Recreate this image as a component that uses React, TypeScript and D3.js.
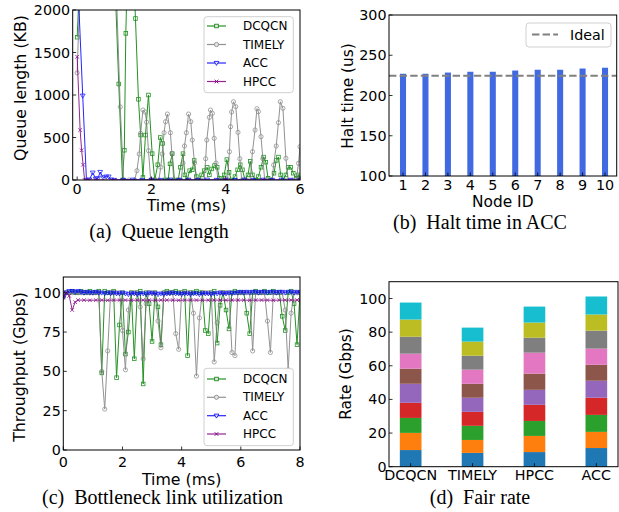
import React from "react";
import * as d3 from "d3";

type Pt = [number, number];

const SANS = "DejaVu Sans, sans-serif";
const SERIF = "Liberation Serif, Times New Roman, serif";

// ---------- (a) Queue length (KB) vs time (ms) ----------
const queueXTicks = [0, 2, 4, 6];
const queueYTicks = [0, 500, 1000, 1500, 2000];

const queueDcqcn: Pt[] = [
  [0, 1680], [0.1, 2700], [0.3, 3300], [0.6, 3400], [0.9, 3000], [1.03, 2200], [1.12, 1130],
  [1.22, 0], [1.27, 350], [1.31, 1725], [1.36, 2600], [1.5, 2600], [1.57, 1900], [1.65, 950],
  [1.71, 529], [1.77, 30], [1.84, 529], [1.92, 1000], [2.02, 310], [2.09, 0], [2.17, 180],
  [2.24, 500], [2.3, 430], [2.37, 0], [2.45, 0], [2.5, 190], [2.56, 310], [2.62, 0], [2.72, 0],
  [2.78, 150], [2.85, 310], [2.9, 60], [2.96, 0], [3.03, 110], [3.1, 120], [3.15, 230],
  [3.21, 40], [3.28, 0], [3.35, 60], [3.42, 110], [3.5, 150], [3.56, 60], [3.62, 130],
  [3.7, 170], [3.77, 150], [3.83, 20], [3.9, 0], [3.96, 60], [4.03, 240], [4.09, 90],
  [4.15, 0], [4.25, 40], [4.32, 120], [4.39, 180], [4.45, 120], [4.52, 0], [4.6, 60],
  [4.66, 220], [4.72, 60], [4.8, 0], [4.88, 40], [4.95, 150], [5.02, 270], [5.08, 210],
  [5.14, 20], [5.22, 0], [5.3, 80], [5.36, 230], [5.42, 270], [5.48, 60], [5.55, 0],
  [5.62, 60], [5.68, 150], [5.75, 150], [5.82, 80], [5.9, 20], [5.96, 60], [6.0, 40],
];

const queueTimely: Pt[] = [
  [0, 1260], [0.1, 2600], [0.4, 3300], [0.8, 3200], [1.05, 2300], [1.16, 860], [1.25, 0],
  [1.4, 0], [1.55, 0], [1.61, 110], [1.67, 306], [1.71, 549], [1.77, 823], [1.83, 800],
  [1.87, 680], [1.92, 345], [1.98, 0], [2.1, 0], [2.2, 0], [2.25, 150], [2.29, 306],
  [2.34, 556], [2.38, 686], [2.43, 776], [2.51, 556], [2.55, 314], [2.6, 0], [2.72, 0],
  [2.8, 0], [2.85, 200], [2.89, 400], [2.94, 556], [3.0, 776], [3.06, 686], [3.1, 470],
  [3.16, 200], [3.21, 0], [3.32, 0], [3.42, 0], [3.46, 250], [3.49, 470], [3.56, 737],
  [3.59, 823], [3.64, 784], [3.69, 490], [3.74, 200], [3.79, 0], [3.92, 0], [4.05, 0],
  [4.1, 333], [4.13, 627], [4.16, 800], [4.21, 921], [4.27, 863], [4.33, 560], [4.38, 250],
  [4.43, 0], [4.55, 0], [4.66, 0], [4.72, 333], [4.79, 588], [4.84, 839], [4.88, 804],
  [4.95, 510], [5.0, 250], [5.05, 0], [5.15, 0], [5.25, 0], [5.29, 176], [5.36, 400],
  [5.42, 675], [5.47, 921], [5.54, 843], [5.62, 255], [5.68, 0], [5.8, 0], [5.9, 0],
  [5.96, 196], [6.0, 392],
];

const queueAcc: Pt[] = [
  [0, 2500], [0.15, 992], [0.25, 0], [0.33, 5], [0.42, 86], [0.5, 15], [0.56, 20],
  [0.62, 94], [0.7, 30], [0.78, 40], [0.85, 40], [0.92, 5], [1.0, 0], [1.25, 0], [1.5, 3],
  [1.75, 0], [2.0, 2], [2.25, 0], [2.5, 3], [2.75, 0], [3.0, 2], [3.25, 0], [3.5, 3],
  [3.75, 0], [4.0, 2], [4.25, 0], [4.5, 3], [4.75, 0], [5.0, 2], [5.25, 0], [5.5, 3],
  [5.75, 0], [6.0, 2],
];

const queueHpcc: Pt[] = [
  [0, 1450], [0.08, 588], [0.12, 350], [0.16, 180], [0.2, 0], [0.3, 0], [0.5, 0],
  [1.0, 0], [2.0, 0], [3.0, 0], [4.0, 0], [5.0, 0], [6.0, 0],
];

// ---------- (b) Halt time in ACC ----------
const nodeIds = [1, 2, 3, 4, 5, 6, 7, 8, 9, 10];
const haltTimes = [227, 227, 228.5, 229.5, 229.5, 231, 232, 232, 233.5, 234.5];
const idealHalt = 224.5;
const haltYTicks = [100, 150, 200, 250, 300];

// ---------- (c) Bottleneck link utilization (Gbps), sampled every 0.1 ms ----------
const tputStep = 0.1;
const tputXTicks = [0, 2, 4, 6, 8];
const tputYTicks = [0, 25, 50, 75, 100];

const tputDcqcn = [
  98, 100, 100, 101, 100, 100, 101, 100, 100, 101,
  100, 100, 101, 49, 101, 100, 100, 101, 46, 79.5,
  100, 61, 75, 100, 58, 100, 101, 42, 100, 93,
  69, 100, 91, 67, 100, 101, 100, 100, 101, 100,
  100, 101, 60, 100, 100, 101, 100, 100, 76, 74,
  100, 101, 68, 92, 100, 89, 77, 100, 101, 100,
  100, 100, 87, 74, 100, 101, 100, 100, 101, 100,
  100, 101, 100, 100, 85, 76, 100, 101, 93, 67,
  100,
];

const tputTimely = [
  97, 100, 100, 100, 100, 100, 100, 100, 100, 100,
  100, 100, 100, 50, 26, 63, 100, 100, 100, 100,
  76, 51, 89, 100, 100, 100, 91, 58, 93, 100,
  100, 100, 82, 65, 100, 100, 100, 100, 74, 64,
  100, 100, 100, 100, 87, 47, 84, 100, 100, 100,
  100, 56, 81, 100, 100, 100, 100, 62, 60, 100,
  100, 100, 100, 100, 63, 100, 100, 100, 100, 82,
  62, 100, 100, 100, 100, 89, 51, 87, 100, 100,
  100,
];

const tputAcc = [
  97, 100, 101, 101, 100.5, 101, 100.5, 100, 100.5, 100,
  100, 100.5, 100, 100, 99.5, 100, 99.5, 100, 99.5, 99.5,
  100, 99.5, 99, 99.5, 99.5, 99, 99.5, 99.5, 99, 100,
  99.5, 99.5, 99, 99.5, 99, 99.5, 99.5, 100, 99.5, 99.5,
  99, 99.5, 99.5, 99, 99.5, 99.5, 99, 99.5, 99.5, 99.5,
  99, 99.5, 99.5, 100, 99.5, 99.5, 100, 99.5, 100, 100,
  100.5, 100, 100.5, 100, 100.5, 100.5, 100, 100.5, 100.5, 100,
  100.5, 100.5, 100, 100.5, 100.5, 100, 100.5, 100.5, 100, 100.5,
  100,
];

const tputHpccTimes = [
  0, 0.1, 0.2, 0.3, 0.4, 0.5, 0.7, 0.9, 1.1, 1.3, 1.5, 1.7, 1.9, 2.1, 2.3, 2.5, 2.7, 2.9,
  3.1, 3.3, 3.5, 3.7, 3.9, 4.1, 4.3, 4.5, 4.7, 4.9, 5.1, 5.3, 5.5, 5.7, 5.9, 6.1, 6.3, 6.5,
  6.7, 6.9, 7.1, 7.3, 7.5, 7.7, 7.9, 8.0,
];
const tputHpcc = [
  97, 100, 98, 89, 94, 95.3, 95.3, 95.2, 95.3, 95.3, 95.2, 95.3, 95.3, 95.3, 95.2, 95.3,
  95.3, 95.3, 95.2, 95.3, 95.3, 95.3, 95.2, 95.3, 95.3, 95.3, 95.2, 95.3, 95.3, 95.3,
  95.2, 95.3, 95.3, 95.3, 95.2, 95.3, 95.3, 95.3, 95.2, 95.3, 95.3, 95.3, 95.3, 95.3,
];

// ---------- (d) Fair rate: per-flow rate stacked per protocol ----------
const fairProtocols = ["DCQCN", "TIMELY", "HPCC", "ACC"];
const fairFlows = ["f1", "f2", "f3", "f4", "f5", "f6", "f7", "f8", "f9", "f10"];
const fairDcqcn = [9.9, 10.2, 8.9, 9.0, 11.3, 9.0, 8.9, 10.1, 10.2, 10.1];
const fairTimely = [8.2, 7.7, 8.4, 8.3, 8.4, 8.3, 8.4, 8.3, 8.4, 8.3];
const fairHpcc = [8.7, 9.6, 8.9, 9.6, 8.9, 9.6, 12.5, 8.9, 9.0, 9.5];
const fairAcc = [11.1, 9.6, 10.1, 10.2, 10.1, 9.5, 9.6, 10.7, 9.6, 10.7];
const fairYTicks = [0, 20, 40, 60, 80, 100];
const flowColors = d3.schemeCategory10;

type MarkerKind = "square" | "circle" | "tri" | "x";
const seriesStyles: { name: string; color: string; marker: MarkerKind }[] = [
  { name: "DCQCN", color: "#008000", marker: "square" },
  { name: "TIMELY", color: "#808080", marker: "circle" },
  { name: "ACC", color: "#0000ff", marker: "tri" },
  { name: "HPCC", color: "#800080", marker: "x" },
];

function Marker({ kind, x, y, color, fill }: { kind: MarkerKind; x: number; y: number; color: string; fill?: string }) {
  const f = fill || "none";
  if (kind === "square")
    return <rect x={x - 1.8} y={y - 1.8} width={3.6} height={3.6} fill={f} stroke={color} strokeWidth={0.8} />;
  if (kind === "circle") return <circle cx={x} cy={y} r={2.1} fill={f} stroke={color} strokeWidth={0.8} />;
  if (kind === "tri")
    return (
      <path
        d={`M${x - 2.4},${y - 1.6}L${x + 2.4},${y - 1.6}L${x},${y + 2.4}Z`}
        fill={f}
        stroke={color}
        strokeWidth={0.8}
      />
    );
  return (
    <path d={`M${x - 1.8},${y - 1.8}L${x + 1.8},${y + 1.8}M${x - 1.8},${y + 1.8}L${x + 1.8},${y - 1.8}`} stroke={color} strokeWidth={0.9} />
  );
}

type Box = { x0: number; x1: number; y0: number; y1: number };

function Frame({ b }: { b: Box }) {
  return <rect x={b.x0} y={b.y0} width={b.x1 - b.x0} height={b.y1 - b.y0} fill="none" stroke="#000" strokeWidth={1} />;
}

function YAxis({ b, scale, ticks }: { b: Box; scale: d3.ScaleLinear<number, number>; ticks: number[] }) {
  return (
    <g>
      {ticks.map((v) => (
        <g key={v}>
          <line x1={b.x0} x2={b.x0 + 3.5} y1={scale(v)} y2={scale(v)} stroke="#000" strokeWidth={0.8} />
          <text x={b.x0 - 2.5} y={scale(v)} textAnchor="end" dominantBaseline="central" fontSize={14.3} fontFamily={SANS}>
            {v}
          </text>
        </g>
      ))}
    </g>
  );
}

function XAxis({ b, scale, ticks, labels, baseline }: { b: Box; scale: (v: number) => number; ticks: number[]; labels?: string[]; baseline: number }) {
  return (
    <g>
      {ticks.map((v, i) => (
        <g key={i}>
          <line x1={scale(v)} x2={scale(v)} y1={b.y1} y2={b.y1 - 3.5} stroke="#000" strokeWidth={0.8} />
          <text x={scale(v)} y={baseline} textAnchor="middle" fontSize={14.3} fontFamily={SANS}>
            {labels ? labels[i] : v}
          </text>
        </g>
      ))}
    </g>
  );
}

function YLabel({ x, y, text, size }: { x: number; y: number; text: string; size: number }) {
  return (
    <text transform={`translate(${x},${y}) rotate(-90)`} textAnchor="middle" fontSize={size} fontFamily={SANS}>
      {text}
    </text>
  );
}

function Caption({ x, y, tag, text }: { x: number; y: number; tag: string; text: string }) {
  return (
    <text x={x} y={y} textAnchor="middle" fontSize={20} fontFamily={SERIF} style={{ whiteSpace: "pre" }}>
      {`${tag}\u00a0\u00a0${text}`}
    </text>
  );
}

function LineSeries({ pts, xs, ys, color, marker }: { pts: Pt[]; xs: (v: number) => number; ys: (v: number) => number; color: string; marker: MarkerKind }) {
  const line = d3.line<Pt>().x((d) => xs(d[0])).y((d) => ys(d[1]));
  return (
    <g opacity={0.85}>
      <path d={line(pts) || ""} fill="none" stroke={color} strokeWidth={1} />
      {pts.map((d, i) => (
        <Marker key={i} kind={marker} x={xs(d[0])} y={ys(d[1])} color={color} />
      ))}
    </g>
  );
}

function Legend({ x0, y0, x1, y1, rows }: { x0: number; y0: number; x1: number; y1: number; rows: number[] }) {
  return (
    <g>
      <rect x={x0} y={y0} width={x1 - x0} height={y1 - y0} rx={3} fill="#fff" fillOpacity={0.85} stroke="#d0d0d0" strokeWidth={1} />
      {seriesStyles.map((s, i) => (
        <g key={s.name}>
          <line x1={x0 + 3} x2={x0 + 22} y1={rows[i]} y2={rows[i]} stroke={s.color} strokeWidth={1.2} opacity={0.85} />
          <Marker kind={s.marker} x={x0 + 12.5} y={rows[i]} color={s.color} fill="#e6e6e6" />
          <text x={x0 + 39} y={rows[i]} dominantBaseline="central" fontSize={12} fontFamily={SANS}>
            {s.name}
          </text>
        </g>
      ))}
    </g>
  );
}

export default function App() {
  // (a)
  const bA: Box = { x0: 72.7, x1: 300, y0: 10, y1: 180 };
  const xA = d3.scaleLinear().domain([-0.12, 6]).range([bA.x0, bA.x1]);
  const yA = d3.scaleLinear().domain([0, 2000]).range([bA.y1, bA.y0]);
  const queueSeries = [queueDcqcn, queueTimely, queueAcc, queueHpcc];

  // (b)
  const bB: Box = { x0: 389, x1: 616.7, y0: 15, y1: 176 };
  const xB = d3.scaleLinear().domain([0.376, 10.52]).range([bB.x0, bB.x1]);
  const yB = d3.scaleLinear().domain([100, 300]).range([bB.y1, bB.y0]);
  const barW = xB(0.27) - xB(0);

  // (c)
  const bC: Box = { x0: 63.3, x1: 300, y0: 277, y1: 450 };
  const xC = d3.scaleLinear().domain([0, 8]).range([bC.x0, bC.x1]);
  const yC = d3.scaleLinear().domain([0, 110]).range([bC.y1, bC.y0]);
  const toPts = (vals: number[]): Pt[] => vals.map((v, i) => [i * tputStep, v]);
  const tputSeries: Pt[][] = [
    toPts(tputDcqcn),
    toPts(tputTimely),
    toPts(tputAcc),
    tputHpccTimes.map((t, i) => [t, tputHpcc[i]] as Pt),
  ];

  // (d)
  const bD: Box = { x0: 389, x1: 618, y0: 281.7, y1: 466.7 };
  const xD = d3.scaleLinear().domain([-0.35, 3.35]).range([bD.x0, bD.x1]);
  const yD = d3.scaleLinear().domain([0, 110]).range([bD.y1, bD.y0]);
  const fairRows = [fairDcqcn, fairTimely, fairHpcc, fairAcc].map((vals, pi) => {
    const row: Record<string, number | string> = { protocol: fairProtocols[pi] };
    fairFlows.forEach((f, fi) => (row[f] = vals[fi]));
    return row;
  });
  const stacked = d3.stack<Record<string, number | string>>().keys(fairFlows)(fairRows as any);
  const fairW = xD(0.35) - xD(0);

  return (
    <svg width={619} height={512} style={{ position: "absolute", left: 0, top: 0, background: "#fff" }}>
      <defs>
        <clipPath id="clipA">
          <rect x={bA.x0} y={bA.y0} width={bA.x1 - bA.x0} height={bA.y1 - bA.y0} />
        </clipPath>
        <clipPath id="clipC">
          <rect x={bC.x0} y={bC.y0} width={bC.x1 - bC.x0} height={bC.y1 - bC.y0} />
        </clipPath>
      </defs>

      {/* (a) Queue length */}
      <g clipPath="url(#clipA)">
        {queueSeries.map((pts, i) => (
          <LineSeries key={i} pts={pts} xs={xA} ys={yA} color={seriesStyles[i].color} marker={seriesStyles[i].marker} />
        ))}
      </g>
      <Frame b={bA} />
      <YAxis b={bA} scale={yA} ticks={queueYTicks} />
      <XAxis b={bA} scale={xA} ticks={queueXTicks} baseline={194} />
      <Legend x0={204} y0={16.7} x1={293.3} y1={92.7} rows={[26, 44.5, 63, 81.5]} />
      <YLabel x={25.5} y={88} text="Queue length (KB)" size={15.8} />
      <text x={186.5} y={211} textAnchor="middle" fontSize={15.8} fontFamily={SANS}>
        Time (ms)
      </text>
      <Caption x={159} y={238} tag="(a)" text="Queue length" />

      {/* (b) Halt time */}
      {haltTimes.map((v, i) => (
        <rect key={i} x={xB(nodeIds[i]) - barW / 2} y={yB(v)} width={barW} height={yB(100) - yB(v)} fill="#4169e1" />
      ))}
      <line x1={bB.x0} x2={bB.x1} y1={yB(idealHalt)} y2={yB(idealHalt)} stroke="#808080" strokeWidth={2} strokeDasharray="7.4 3.2" />
      <Frame b={bB} />
      <YAxis b={bB} scale={yB} ticks={haltYTicks} />
      <XAxis b={bB} scale={xB} ticks={nodeIds} baseline={190} />
      <rect x={526} y={23} width={85} height={24} rx={3} fill="#fff" fillOpacity={0.85} stroke="#d0d0d0" strokeWidth={1} />
      <line x1={532} x2={558} y1={34.5} y2={34.5} stroke="#808080" strokeWidth={2} strokeDasharray="7.4 3.2" />
      <text x={570} y={34.5} dominantBaseline="central" fontSize={14.3} fontFamily={SANS}>
        Ideal
      </text>
      <YLabel x={353} y={96} text="Halt time (us)" size={15.4} />
      <text x={502.8} y={207} textAnchor="middle" fontSize={15.4} fontFamily={SANS}>
        Node ID
      </text>
      <Caption x={480} y={229} tag="(b)" text="Halt time in ACC" />

      {/* (c) Bottleneck link utilization */}
      <g clipPath="url(#clipC)">
        {tputSeries.map((pts, i) => (
          <LineSeries key={i} pts={pts} xs={xC} ys={yC} color={seriesStyles[i].color} marker={seriesStyles[i].marker} />
        ))}
      </g>
      <Frame b={bC} />
      <YAxis b={bC} scale={yC} ticks={tputYTicks} />
      <XAxis b={bC} scale={xC} ticks={tputXTicks} baseline={466.5} />
      <Legend x0={204} y0={368.3} x1={293.3} y1={445.7} rows={[379, 397.3, 415.7, 434]} />
      <YLabel x={24.5} y={367} text="Throughput (Gbps)" size={15.8} />
      <text x={181.7} y={485} textAnchor="middle" fontSize={15.8} fontFamily={SANS}>
        Time (ms)
      </text>
      <Caption x={162.5} y={504} tag="(c)" text="Bottleneck link utilization" />

      {/* (d) Fair rate */}
      {stacked.map((layer, li) =>
        layer.map((seg, pi) => (
          <rect
            key={`${li}-${pi}`}
            x={xD(pi) - fairW / 2}
            y={yD(seg[1])}
            width={fairW}
            height={yD(seg[0]) - yD(seg[1])}
            fill={flowColors[li % 10]}
          />
        ))
      )}
      <Frame b={bD} />
      <YAxis b={bD} scale={yD} ticks={fairYTicks} />
      <XAxis b={bD} scale={xD} ticks={[0, 1, 2, 3]} labels={fairProtocols} baseline={479.7} />
      <YLabel x={351.3} y={374} text="Rate (Gbps)" size={15.4} />
      <Caption x={480} y={504} tag="(d)" text="Fair rate" />
    </svg>
  );
}
